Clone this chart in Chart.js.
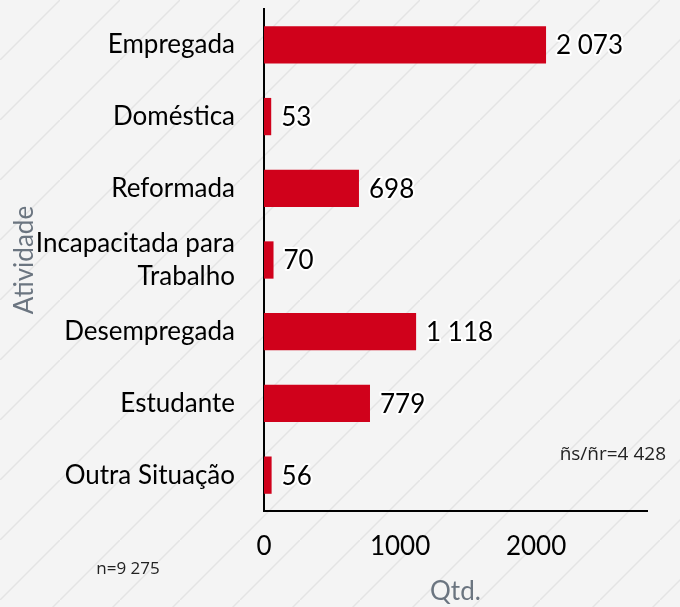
<!DOCTYPE html>
<html>
<head>
<meta charset="utf-8">
<script src="https://cdn.jsdelivr.net/npm/chart.js@4/dist/chart.umd.min.js"></script>
<style>
  html, body { margin: 0; padding: 0; background: #f4f4f4; }
  #wrap { width: 680px; height: 607px; position: relative; }
</style>
</head>
<body>
<div id="wrap"><canvas id="chart"></canvas></div>
<script>
// data
const categories = ["Empregada", "Doméstica", "Reformada", ["Incapacitada para", "Trabalho"], "Desempregada", "Estudante", "Outra Situação"];
const counts = [2073, 53, 698, 70, 1118, 779, 56];
const xTicks = [0, 1000, 2000];
const totalN = "n=9 275";
const noAnswer = "ñs/ñr=4 428";

const fmt = v => String(v).replace(/\B(?=(\d{3})+(?!\d))/g, " ");

// striped background
const stripes = {
    id: 'stripes',
    beforeDraw(chart) {
        const { ctx, width, height } = chart;
        const tile = document.createElement('canvas');
        tile.width = 60; tile.height = 60;
        const t = tile.getContext('2d');
        t.fillStyle = '#f4f4f4';
        t.fillRect(0, 0, 60, 60);
        t.strokeStyle = '#e4e4e4';
        t.lineWidth = 1.5;
        t.beginPath();
        t.moveTo(-5, 65); t.lineTo(65, -5);
        t.stroke();
        ctx.save();
        ctx.fillStyle = ctx.createPattern(tile, 'repeat');
        ctx.fillRect(0, 0, width, height);
        ctx.restore();
    }
};

// value labels + notes
const labels = {
    id: 'labels',
    afterDatasetsDraw(chart) {
        const { ctx } = chart;
        const meta = chart.getDatasetMeta(0);
        ctx.save();
        ctx.font = '26px Lato';
        ctx.textBaseline = 'middle';
        ctx.textAlign = 'left';
        ctx.lineJoin = 'round';
        meta.data.forEach((bar, i) => {
            const txt = fmt(counts[i]);
            ctx.lineWidth = 4;
            ctx.strokeStyle = '#ffffff';
            ctx.strokeText(txt, bar.x + 10, bar.y + 1);
            ctx.fillStyle = '#000';
            ctx.fillText(txt, bar.x + 10, bar.y + 1);
        });
        ctx.fillStyle = '#222';
        ctx.font = '17px "Open Sans"';
        ctx.textAlign = 'center';
        ctx.fillText(totalN, 128, 569);
        ctx.font = '19px "Open Sans"';
        ctx.textAlign = 'right';
        ctx.fillText(noAnswer, 666, 455);
        ctx.restore();
    }
};

new Chart(document.getElementById('chart'), {
    type: 'bar',
    data: {
        labels: categories,
        datasets: [{
            data: counts,
            backgroundColor: '#d0011b',
            categoryPercentage: 0.52,
            barPercentage: 1
        }]
    },
    options: {
        indexAxis: 'y',
        responsive: true,
        maintainAspectRatio: false,
        animation: false,
        layout: { padding: { top: 9, right: 33, left: 0, bottom: 0 } },
        plugins: { legend: { display: false }, tooltip: { enabled: false } },
        scales: {
            x: {
                min: 0,
                max: 2815,
                afterBuildTicks: scale => { scale.ticks = xTicks.map(v => ({ value: v })); },
                afterFit: scale => { scale.height = 96; scale.paddingLeft = 0; scale.paddingRight = 0; },
                grid: { display: false, drawTicks: true, tickLength: 20 },
                border: { color: '#000', width: 2 },
                ticks: { color: '#000', font: { family: 'Lato', size: 26 }, padding: 0, maxRotation: 0, callback: v => String(v) },
                title: { display: true, text: 'Qtd.', color: '#6b7580', font: { family: 'Lato', size: 26 }, padding: { top: 0, bottom: 0 } }
            },
            y: {
                afterFit: scale => { scale.width = 264; scale.paddingTop = 0; scale.paddingBottom = 0; },
                grid: { display: false, drawTicks: true, tickLength: 29 },
                border: { color: '#000', width: 2 },
                ticks: { color: '#000', font: { family: 'Lato', size: 26, lineHeight: 1.25 }, padding: 0, autoSkip: false },
                title: { display: true, text: 'Atividade', color: '#6b7580', font: { family: 'Lato', size: 26 }, padding: { top: 9, bottom: 0 } }
            }
        }
    },
    plugins: [stripes, labels]
});
</script>
</body>
</html>
